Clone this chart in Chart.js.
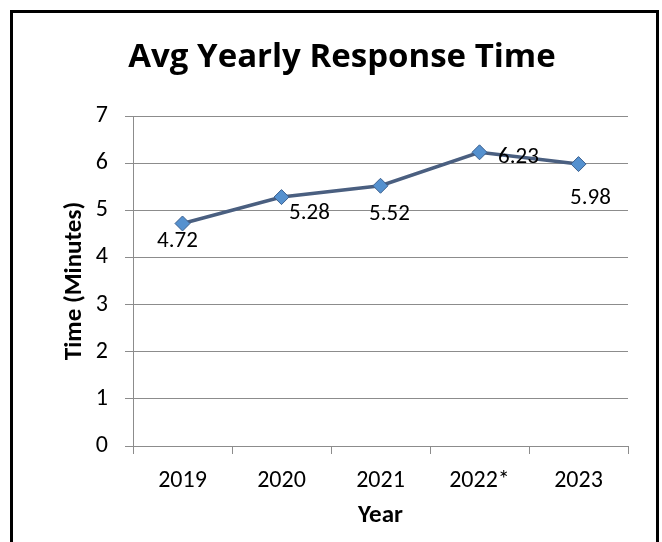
<!DOCTYPE html>
<html>
<head>
<meta charset="utf-8">
<script src="https://cdn.jsdelivr.net/npm/chart.js@4"></script>
<style>
    body { margin: 0; background: #fff; }
    #wrap { position: relative; width: 662px; height: 542px; overflow: hidden; }
    #frame { position: absolute; left: 10px; top: 10px; width: 643px; height: 560px; border: 3px solid #000; }
    canvas { position: absolute; left: 0; top: 0; }
</style>
</head>
<body>
<div id="wrap">
    <div id="frame"></div>
    <canvas id="myChart" width="662" height="542"></canvas>
</div>
<script>
const years = ['2019', '2020', '2021', '2022*', '2023'];
const responseTimes = [4.72, 5.28, 5.52, 6.23, 5.98];
const yTicks = [0, 1, 2, 3, 4, 5, 6, 7];

// where each value label sits relative to its point (px)
const labelDx = [-5, 28, 9, 39, 12];
const labelDy = [18, 16, 28, 5, 34];

const FONT = 'Carlito, Calibri, Lato, sans-serif';
const PAD_LEFT = 56;

const valueLabels = {
    id: 'valueLabels',
    afterDatasetsDraw(chart) {
        const ctx = chart.ctx;
        const meta = chart.getDatasetMeta(0);
        ctx.save();
        ctx.font = '23px ' + FONT;
        ctx.fillStyle = '#000';
        ctx.textAlign = 'center';
        ctx.textBaseline = 'middle';
        meta.data.forEach((pt, i) => {
            ctx.fillText(responseTimes[i].toFixed(2), pt.x + labelDx[i], pt.y + labelDy[i]);
        });
        ctx.restore();
    }
};

const ctx = document.getElementById('myChart');

const chart = new Chart(ctx, {
    type: 'line',
    data: {
        labels: years,
        datasets: [{
            label: 'Avg Response Time',
            data: responseTimes,
            borderColor: '#4a5f80',
            borderWidth: 3.5,
            backgroundColor: '#5591cf',
            pointStyle: 'rectRot',
            pointRadius: 7.5,
            pointBorderColor: '#3b5f8e',
            pointBorderWidth: 1,
            tension: 0
        }]
    },
    options: {
        responsive: false,
        animation: false,
        layout: {
            padding: { left: PAD_LEFT, right: 34, top: 10, bottom: 0 }
        },
        plugins: {
            legend: { display: false },
            tooltip: { enabled: false },
            title: {
                display: true,
                text: 'Avg Yearly Response Time',
                color: '#000',
                font: { family: '"Open Sans", ' + FONT, size: 33, weight: 'bold' },
                padding: { top: 28, bottom: 38.4 }
            }
        },
        scales: {
            x: {
                offset: true,
                grid: {
                    offset: true,
                    drawOnChartArea: false,
                    tickLength: 8,
                    color: '#8c8c8c'
                },
                border: { color: '#8c8c8c', width: 1 },
                ticks: {
                    color: '#000',
                    font: { family: FONT, size: 24 },
                    padding: 13
                },
                title: {
                    display: true,
                    text: 'Year',
                    color: '#000',
                    font: { family: FONT, size: 25, weight: 'bold' },
                    padding: { top: 0, bottom: 11 }
                },
                afterFit(scale) {
                    scale.height = 96;
                }
            },
            y: {
                min: 0,
                max: 7,
                afterBuildTicks(scale) {
                    scale.ticks = yTicks.map(v => ({ value: v }));
                },
                grid: {
                    color: '#8c8c8c',
                    tickLength: 8
                },
                border: { color: '#8c8c8c', width: 1 },
                ticks: {
                    color: '#000',
                    font: { family: FONT, size: 24 },
                    padding: 17
                },
                title: {
                    display: true,
                    text: 'Time (Minutes)',
                    color: '#000',
                    font: { family: FONT, size: 25, weight: 'bold' },
                    padding: { top: 4, bottom: 4 }
                },
                afterFit(scale) {
                    scale.width = 133 - PAD_LEFT;
                }
            }
        }
    },
    plugins: [valueLabels]
});
</script>
</body>
</html>
